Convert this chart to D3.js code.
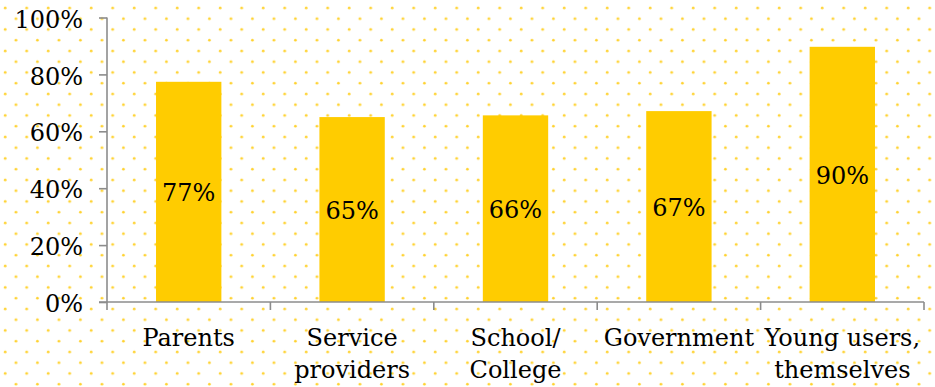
<!DOCTYPE html>
<html>
<head>
<meta charset="utf-8">
<script src="https://cdn.jsdelivr.net/npm/d3@7"></script>
<style>
  html, body { margin: 0; padding: 0; background: #fff; }
  svg { display: block; }
  text { font-family: "DejaVu Serif", "Liberation Serif", serif; fill: #000; }
</style>
</head>
<body>
<div id="chart-area"></div>
<script>
// Data
const categories = ['Parents', 'Service providers', 'School/ College', 'Government', 'Young users, themselves'];
const categoryLines = [['Parents'], ['Service', 'providers'], ['School/', 'College'], ['Government'], ['Young users,', 'themselves']];
const values = [0.774, 0.65, 0.656, 0.671, 0.897];
const yTicks = [0, 0.2, 0.4, 0.6, 0.8, 1];

const canvasWidth = 935;
const canvasHeight = 387;
const margin = { left: 107, top: 17.5, right: 11, bottom: 85 };
const width = canvasWidth - margin.left - margin.right;
const height = canvasHeight - margin.top - margin.bottom;
const axisColor = '#8c8c8c';
const fontSize = 24;

const svg = d3
  .select('#chart-area')
  .append('svg')
  .attr('width', canvasWidth)
  .attr('height', canvasHeight);

// dotted background
const pattern = svg
  .append('defs')
  .append('pattern')
  .attr('id', 'dots')
  .attr('patternUnits', 'userSpaceOnUse')
  .attr('width', 21.5)
  .attr('height', 21.5);
pattern.append('circle').attr('cx', 5.2).attr('cy', 8).attr('r', 1.35).attr('fill', '#ffd230');
pattern.append('circle').attr('cx', 15.95).attr('cy', 18.75).attr('r', 1.35).attr('fill', '#ffd230');

svg
  .append('rect')
  .attr('width', canvasWidth)
  .attr('height', canvasHeight)
  .attr('fill', 'url(#dots)');

const chart = svg.append('g').attr('transform', `translate(${margin.left},${margin.top})`);

// scales
const xScale = d3.scaleBand().domain(categories).range([0, width]).paddingInner(0.6).paddingOuter(0.3);
const bandScale = d3.scaleBand().domain(categories).range([0, width]);
const yScale = d3.scaleLinear().domain([0, 1]).range([height, 0]);

// bars
chart
  .selectAll('rect.bar')
  .data(values)
  .enter()
  .append('rect')
  .attr('class', 'bar')
  .attr('x', (d, i) => xScale(categories[i]))
  .attr('y', d => yScale(d))
  .attr('width', xScale.bandwidth())
  .attr('height', d => height - yScale(d))
  .attr('fill', '#ffcc00');

// value labels
chart
  .selectAll('text.value')
  .data(values)
  .enter()
  .append('text')
  .attr('class', 'value')
  .attr('x', (d, i) => xScale(categories[i]) + xScale.bandwidth() / 2)
  .attr('y', d => (yScale(d) + height) / 2)
  .attr('dy', '0.38em')
  .attr('text-anchor', 'middle')
  .attr('font-size', fontSize)
  .text(d => d3.format('.0%')(d));

// Y-Axis
const yAxis = d3
  .axisLeft(yScale)
  .tickValues(yTicks)
  .tickSize(8)
  .tickPadding(16)
  .tickFormat(d3.format('.0%'));
const yAxisGroup = chart.append('g').call(yAxis);
yAxisGroup.select('.domain').attr('stroke', axisColor).attr('stroke-width', 1.6).attr('d', `M0,0V${height}`);
yAxisGroup.selectAll('.tick line').attr('stroke', axisColor).attr('stroke-width', 1.6);
yAxisGroup
  .selectAll('.tick text')
  .attr('font-size', fontSize)
  .attr('font-family', null)
  .attr('dy', '0.4em');

// X-Axis
const xAxisGroup = chart.append('g').attr('transform', `translate(0,${height})`);
xAxisGroup
  .append('line')
  .attr('x1', -8)
  .attr('x2', width)
  .attr('stroke', axisColor)
  .attr('stroke-width', 1.6);
const boundaries = categories.map(c => bandScale(c)).concat([width]);
xAxisGroup
  .selectAll('line.tick')
  .data(boundaries)
  .enter()
  .append('line')
  .attr('class', 'tick')
  .attr('x1', d => d)
  .attr('x2', d => d)
  .attr('y1', 0)
  .attr('y2', 8)
  .attr('stroke', axisColor)
  .attr('stroke-width', 1.6);

const xLabels = xAxisGroup
  .selectAll('text.cat')
  .data(categoryLines)
  .enter()
  .append('text')
  .attr('class', 'cat')
  .attr('text-anchor', 'middle')
  .attr('font-size', fontSize)
  .attr('transform', (d, i) => `translate(${bandScale(categories[i]) + bandScale.bandwidth() / 2},${44})`);
xLabels
  .selectAll('tspan')
  .data(d => d)
  .enter()
  .append('tspan')
  .attr('x', 0)
  .attr('y', (d, i) => i * 32)
  .text(d => d);
</script>
</body>
</html>
